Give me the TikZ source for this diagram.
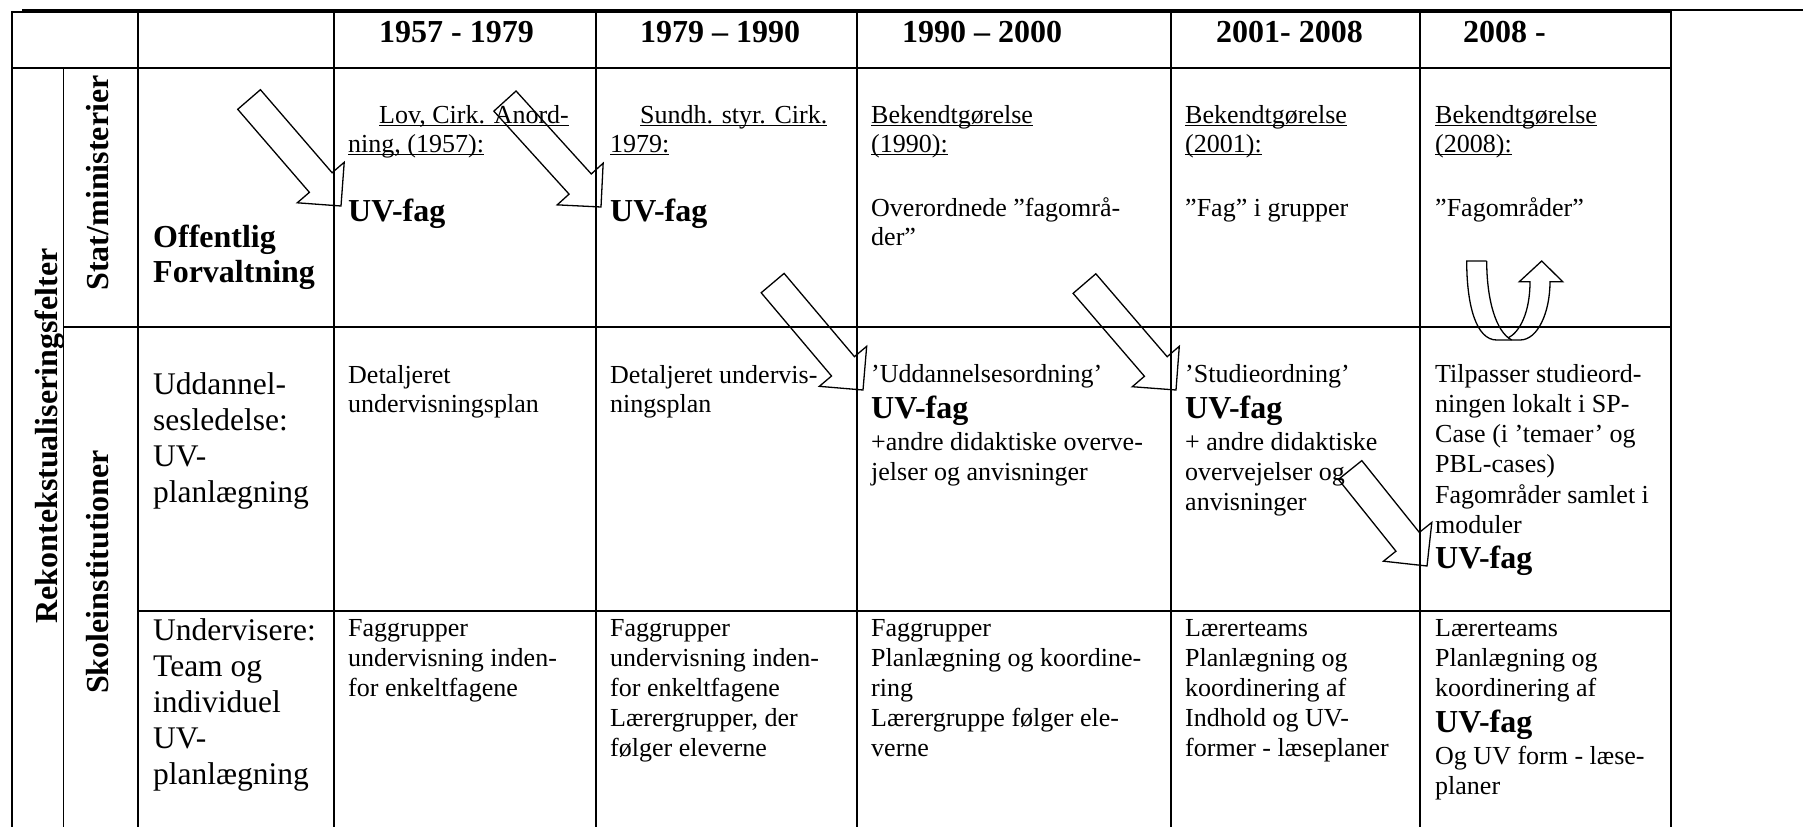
\documentclass[tikz,border=0pt]{standalone}
\usepackage{fontspec}
\setmainfont{Liberation Serif}
\newsavebox\ulbox
\newcommand\ulx[1]{\sbox\ulbox{#1}\rlap{\rule[-3pt]{\wd\ulbox}{1.3pt}}\usebox\ulbox}
\newcommand\vlines[2]{\vtop{\baselineskip=#1\lineskiplimit=-100pt\lineskip=0pt\relax #2}}
\newcommand\bigfag{{\bfseries\fontsize{32}{36}\selectfont UV-fag}}
\tikzset{
  body/.style={anchor=base west, inner sep=0pt, font=\fontsize{26}{30}\selectfont},
  lab/.style={anchor=base west, inner sep=0pt, font=\fontsize{31.5}{36}\selectfont},
  hdr/.style={anchor=base west, inner sep=0pt, font=\bfseries\fontsize{32}{36}\selectfont},
  rot/.style={anchor=base, inner sep=0pt, rotate=90, font=\bfseries\fontsize{32}{36}\selectfont},
  gridline/.style={line width=1.8pt},
  barrow/.style={line width=1.3pt, line join=miter},
}
\newcommand\blockarr[4]{%
  \begin{scope}[shift={(#1,#2)}, rotate=-#3]
    \draw[barrow] (-#4,15) -- (-31,15) -- (-31,31) -- (0,0) -- (-31,-31) -- (-31,-15) -- (-#4,-15) -- cycle;
  \end{scope}}
\begin{document}
\begin{tikzpicture}[x=1pt, y=-1pt]
\useasboundingbox (0,0) rectangle (1803,827);
% top rules
\draw[gridline] (11.7,11.7) -- (1670.7,11.7);
\draw[line width=3.4pt] (22,10.6) -- (1670.7,10.6);
\draw[gridline] (1670.7,9.9) -- (1803,9.9);
% horizontal lines
\draw[gridline] (11.7,67.7) -- (1670.7,67.7);
\draw[gridline] (63.5,327) -- (1670.7,327);
\draw[gridline] (137.7,611) -- (1670.7,611);
% vertical lines
\draw[gridline] (11.7,10.8) -- (11.7,827);
\draw[gridline] (63.5,67.7) -- (63.5,827);
\foreach \xx in {137.7,334,596,857,1171,1420,1670.7}
  \draw[gridline] (\xx,10.8) -- (\xx,827);
% header
\node[hdr] (h1) at (379,42) {1957 - 1979};
\node[hdr] (h2) at (640,42) {1979 – 1990};
\node[hdr] (h3) at (902,42) {1990 – 2000};
\node[hdr] (h4) at (1216,42) {2001- 2008};
\node[hdr] (h5) at (1463,42) {2008 -};
% rotated labels
\node[rot] (rek) at (57,436) {Rekontekstualiseringsfelter};
\node[rot] (stat) at (108,183) {Stat/ministerier};
\node[rot] (skole) at (108,572) {Skoleinstitutioner};
% row labels
\node[hdr] (off) at (153,247) {\vlines{35pt}{\hbox{Offentlig}\hbox{Forvaltning}}};
\node[lab] (udd) at (153,394) {\vlines{36pt}{\hbox{Uddannel-}\hbox{sesledelse:}\hbox{UV-}\hbox{planlægning}}};
\node[lab] (und) at (153,640) {\vlines{36pt}{\hbox{Undervisere:}\hbox{Team og}\hbox{individuel}\hbox{UV-}\hbox{planlægning}}};
% row 1 cells
\node[body] (c1) at (348,123) {\vlines{29pt}{\hbox{\hspace*{31pt}\ulx{Lov, Cirk. Anord-}}\hbox{\ulx{ning, (1957):}}\vskip40pt\hbox{\bigfag}}};
\node[body] (d1) at (610,123) {\vlines{29pt}{\hbox{\hspace*{30pt}\ulx{Sundh. styr. Cirk.}}\hbox{\ulx{1979:}}\vskip40pt\hbox{\bigfag}}};
\node[body] (e1) at (871,123) {\vlines{29pt}{\hbox{\ulx{Bekendtgørelse}}\hbox{\ulx{(1990):}}\vskip35pt\hbox{Overordnede ”fagområ-}\hbox{der”}}};
\node[body] (f1) at (1185,123) {\vlines{29pt}{\hbox{\ulx{Bekendtgørelse}}\hbox{\ulx{(2001):}}\vskip35pt\hbox{”Fag” i grupper}}};
\node[body] (g1) at (1435,123) {\vlines{29pt}{\hbox{\ulx{Bekendtgørelse}}\hbox{\ulx{(2008):}}\vskip35pt\hbox{”Fagområder”}}};
% row 2 cells
\node[body] (c2) at (348,383) {\vlines{29pt}{\hbox{Detaljeret}\hbox{undervisningsplan}}};
\node[body] (d2) at (610,383) {\vlines{29pt}{\hbox{Detaljeret undervis-}\hbox{ningsplan}}};
\node[body] (e2) at (871,382) {\vlines{30pt}{\hbox{’Uddannelsesordning’}\vskip6pt\hbox{\bigfag}\vskip2pt\hbox{+andre didaktiske overve-}\hbox{jelser og anvisninger}}};
\node[body] (f2) at (1185,382) {\vlines{30pt}{\hbox{’Studieordning’}\vskip6pt\hbox{\bigfag}\vskip2pt\hbox{+ andre didaktiske}\hbox{overvejelser og}\hbox{anvisninger}}};
\node[body] (g2) at (1435,382) {\vlines{30.3pt}{\hbox{Tilpasser studieord-}\hbox{ningen lokalt i SP-}\hbox{Case (i ’temaer’ og}\hbox{PBL-cases)}\hbox{Fagområder samlet i}\hbox{moduler}\vskip5pt\hbox{\bigfag}}};
% row 3 cells
\node[body] (c3) at (348,636) {\vlines{30pt}{\hbox{Faggrupper}\hbox{undervisning inden-}\hbox{for enkeltfagene}}};
\node[body] (d3) at (610,636) {\vlines{30pt}{\hbox{Faggrupper}\hbox{undervisning inden-}\hbox{for enkeltfagene}\hbox{Lærergrupper, der}\hbox{følger eleverne}}};
\node[body] (e3) at (871,636) {\vlines{30pt}{\hbox{Faggrupper}\hbox{Planlægning og koordine-}\hbox{ring}\hbox{Lærergruppe følger ele-}\hbox{verne}}};
\node[body] (f3) at (1185,636) {\vlines{30pt}{\hbox{Lærerteams}\hbox{Planlægning og}\hbox{koordinering af}\hbox{Indhold og UV-}\hbox{former - læseplaner}}};
\node[body] (g3) at (1435,636) {\vlines{30pt}{\hbox{Lærerteams}\hbox{Planlægning og}\hbox{koordinering af}\vskip6pt\hbox{\bigfag}\vskip2pt\hbox{Og UV form - læse-}\hbox{planer}}};
% block arrows
\blockarr{341}{206}{49.2}{140.7}
\blockarr{601}{207}{47.8}{143}
\blockarr{863}{390}{49.8}{140}
\blockarr{1176}{390}{49.3}{140.4}
\blockarr{1427}{566}{51.3}{123}
% U-turn arrow
\draw[barrow] (1486.7,261) -- (1466.7,261)
  .. controls (1466.7,305) and (1476,340) .. (1496.7,340) -- (1520,340)
  .. controls (1538,340) and (1550,312) .. (1550,281.7)
  -- (1562.7,281.7) -- (1541.7,261) -- (1519.3,281.7) -- (1530,281.7)
  .. controls (1530,312) and (1520,332) .. (1508,338);
\draw[barrow] (1486.7,261) .. controls (1486.7,300) and (1496,332) .. (1511.7,340);
\end{tikzpicture}
\end{document}
